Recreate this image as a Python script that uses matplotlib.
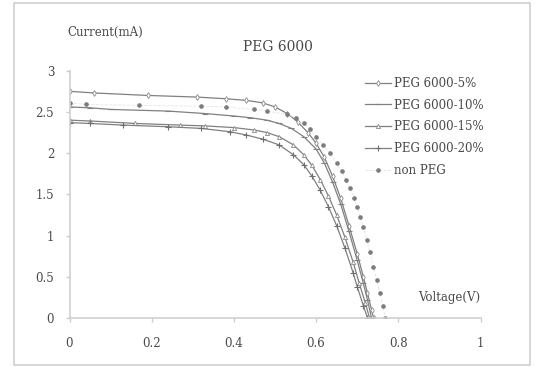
import matplotlib
matplotlib.use('Agg')
import matplotlib.pyplot as plt
from matplotlib.patches import Rectangle

plt.rcParams['font.family'] = ['DejaVu Serif']

# ---- data (voltage V, current mA) ----
v_5 = [0.0, 0.06, 0.19, 0.31, 0.38, 0.43, 0.47, 0.50, 0.53, 0.555, 0.58, 0.60,
       0.62, 0.64, 0.66, 0.68, 0.70, 0.715, 0.725, 0.735, 0.74]
i_5 = [2.75, 2.73, 2.70, 2.68, 2.66, 2.64, 2.61, 2.56, 2.48, 2.38, 2.25, 2.12,
       1.95, 1.72, 1.45, 1.12, 0.78, 0.50, 0.30, 0.10, 0.0]

v_10 = [0.0, 0.05, 0.10, 0.24, 0.33, 0.40, 0.44, 0.48, 0.51, 0.54, 0.57, 0.60,
        0.62, 0.64, 0.66, 0.68, 0.70, 0.715, 0.725, 0.735]
i_10 = [2.56, 2.55, 2.53, 2.51, 2.48, 2.45, 2.43, 2.40, 2.36, 2.30, 2.20, 2.05,
        1.88, 1.65, 1.38, 1.05, 0.70, 0.42, 0.22, 0.0]

v_15 = [0.0, 0.05, 0.16, 0.27, 0.33, 0.40, 0.45, 0.48, 0.51, 0.545, 0.57, 0.59,
        0.61, 0.63, 0.65, 0.67, 0.69, 0.705, 0.72, 0.73]
i_15 = [2.40, 2.39, 2.36, 2.34, 2.33, 2.31, 2.28, 2.25, 2.20, 2.10, 1.98, 1.85,
        1.68, 1.48, 1.25, 0.98, 0.68, 0.42, 0.18, 0.0]

v_20 = [0.0, 0.05, 0.13, 0.24, 0.32, 0.39, 0.43, 0.47, 0.51, 0.545, 0.57, 0.59,
        0.61, 0.63, 0.65, 0.67, 0.69, 0.70, 0.715, 0.725]
i_20 = [2.37, 2.36, 2.34, 2.32, 2.30, 2.26, 2.22, 2.17, 2.10, 1.98, 1.86, 1.72,
        1.55, 1.35, 1.12, 0.85, 0.55, 0.38, 0.15, 0.0]

v_np = [0.0, 0.04, 0.17, 0.32, 0.38, 0.45, 0.48, 0.53, 0.55, 0.57, 0.585, 0.60,
        0.617, 0.634, 0.65, 0.662, 0.672, 0.682, 0.692, 0.70, 0.707, 0.715,
        0.723, 0.731, 0.739, 0.747, 0.755, 0.762, 0.768]
i_np = [2.61, 2.59, 2.58, 2.57, 2.56, 2.53, 2.51, 2.47, 2.43, 2.36, 2.29, 2.20,
        2.10, 2.00, 1.88, 1.78, 1.68, 1.58, 1.45, 1.35, 1.23, 1.10, 0.95, 0.80,
        0.62, 0.46, 0.30, 0.15, 0.0]

labels = ['PEG 6000-5%', 'PEG 6000-10%', 'PEG 6000-15%', 'PEG 6000-20%', 'non PEG']
x_ticks = [0, 0.2, 0.4, 0.6, 0.8, 1]
x_tick_labels = ['0', '0.2', '0.4', '0.6', '0.8', '1']
y_ticks = [0, 0.5, 1, 1.5, 2, 2.5, 3]
y_tick_labels = ['0', '0.5', '1', '1.5', '2', '2.5', '3']

line_c = '#808080'
txt_c = '#4a4a4a'

fig = plt.figure(figsize=(5.37, 3.67), dpi=100)
fig.patch.set_facecolor('white')
# light frame round the whole chart
fig.patches.append(Rectangle((14/537, 2/367), 516/537, 362/367, transform=fig.transFigure,
                             fill=False, edgecolor='#d0d0d0', linewidth=1.2))

ax = fig.add_axes([69.5/537, 1 - 318/367, 411/537, 247.3/367])

ax.plot(v_5, i_5, color=line_c, lw=0.9, marker='d', ms=3, mfc='white', mec='#8a8a8a', mew=0.6, label=labels[0])
ax.plot(v_10, i_10, color=line_c, lw=0.9, marker='_', ms=4, mec=line_c, mew=0.8, label=labels[1])
ax.plot(v_15, i_15, color=line_c, lw=0.9, marker='^', ms=3, mfc='white', mec='#8a8a8a', mew=0.6, label=labels[2])
ax.plot(v_20, i_20, color=line_c, lw=0.9, marker='+', ms=4, mec='#6e6e6e', mew=0.8, label=labels[3])
ax.plot(v_np, i_np, color='#e4e4e4', lw=0.6, ls='--', marker='o', ms=2.3, mfc='#7c7c7c', mec='#7c7c7c', label=labels[4])

ax.set_xlim(0, 1)
ax.set_ylim(0, 3)
ax.set_xticks(x_ticks)
ax.set_xticklabels(x_tick_labels)
ax.set_yticks(y_ticks)
ax.set_yticklabels(y_tick_labels)
ax.tick_params(axis='both', colors='#cccccc', labelcolor=txt_c, labelsize=8.5, length=3, width=1, direction='out')
ax.tick_params(axis='x', pad=11)
ax.tick_params(axis='y', pad=8)
for s in ['top', 'right']:
    ax.spines[s].set_visible(False)
for s in ['left', 'bottom']:
    ax.spines[s].set_color('#cfcfcf')
    ax.spines[s].set_linewidth(1.2)

fig.text(67/537, 1 - 32/367, 'Current(mA)', fontsize=8.5, color=txt_c, ha='left', va='center')
fig.text(278/537, 1 - 47/367, 'PEG 6000', fontsize=10, color=txt_c, ha='center', va='center')
fig.text(480/537, 1 - 298/367, 'Voltage(V)', fontsize=8.5, color=txt_c, ha='right', va='center')

leg = ax.legend(loc='upper left', bbox_to_anchor=(360/537, 1 - 72/367), bbox_transform=fig.transFigure,
                frameon=False, fontsize=8.5, handlelength=2.2, handletextpad=0.3, labelspacing=0.75,
                borderaxespad=0)
for t in leg.get_texts():
    t.set_color(txt_c)

plt.savefig('out.png', dpi=100, facecolor='white')
plt.close()
